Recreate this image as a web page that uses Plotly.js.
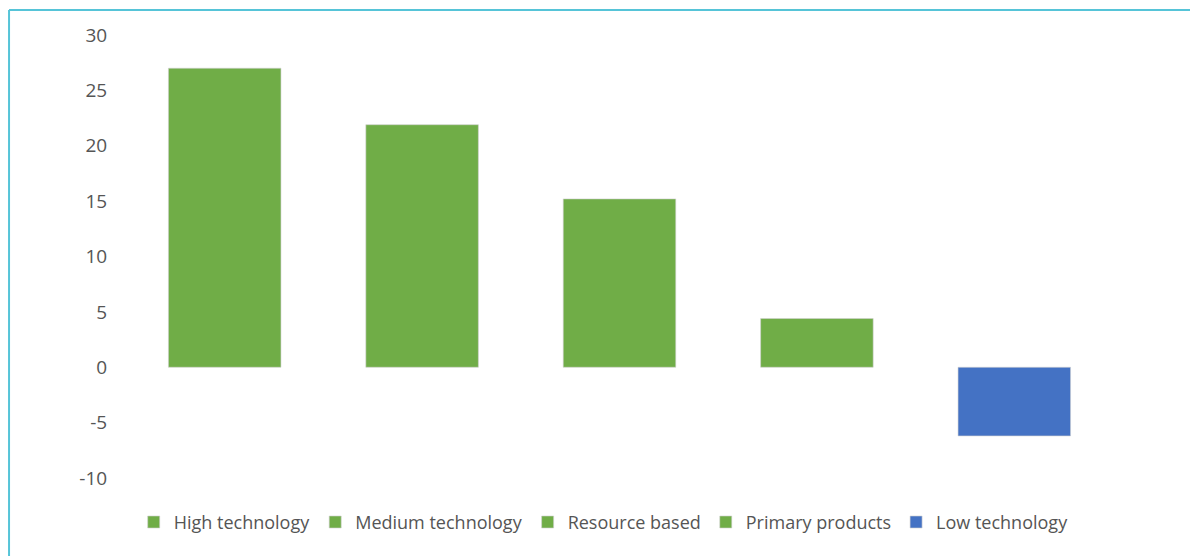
<!DOCTYPE html>
<html>
<head>
<meta charset="utf-8">
<script src="https://cdn.plot.ly/plotly-3.0.1.min.js"></script>
<style>
html,body{margin:0;padding:0;background:#fff;}
#chart{width:1190px;height:556px;}
</style>
</head>
<body>
<div id="chart"></div>
<script>
const categories = ["High technology", "Medium technology", "Resource based", "Primary products", "Low technology"];
const values = [27, 21.9, 15.2, 4.4, -6.2];
const colors = ["#70AD47", "#70AD47", "#70AD47", "#70AD47", "#4472C4"];
const yTicks = [-10, -5, 0, 5, 10, 15, 20, 25, 30];

const traces = categories.map((c, i) => ({
  type: "bar",
  name: c,
  x: [c],
  y: [values[i]],
  width: 0.57,
  marker: {color: colors[i], line: {color: "#d0d0d0", width: 0.6}},
  hoverinfo: "x+y"
}));

const layout = {
  width: 1190,
  height: 556,
  margin: {l: 126, r: 77, t: 35, b: 78},
  paper_bgcolor: "#ffffff",
  plot_bgcolor: "#ffffff",
  barmode: "overlay",
  font: {family: "Open Sans, Liberation Sans, sans-serif", color: "#555555", size: 18},
  xaxis: {
    type: "category",
    categoryorder: "array",
    categoryarray: categories,
    showticklabels: false,
    showgrid: false,
    zeroline: false,
    showline: false,
    ticks: ""
  },
  yaxis: {
    range: [-10, 30],
    tickvals: yTicks,
    ticktext: yTicks.map(String),
    showgrid: false,
    zeroline: false,
    showline: false,
    ticks: "outside",
    ticklen: 14,
    tickcolor: "rgba(0,0,0,0)",
    tickfont: {size: 19, color: "#555555"}
  },
  showlegend: true,
  legend: {
    orientation: "h",
    x: 0.484,
    xanchor: "center",
    y: -0.1,
    yanchor: "middle",
    font: {size: 18, color: "#555555"},
    itemclick: false,
    traceorder: "normal"
  },
  shapes: [
    {type: "line", xref: "paper", yref: "paper", x0: -0.1185, x1: 1.1, y0: 1.0564, y1: 1.0564, line: {color: "#56C4D8", width: 2}},
    {type: "line", xref: "paper", yref: "paper", x0: -0.1185, x1: -0.1185, y0: 1.0564, y1: -0.25, line: {color: "#56C4D8", width: 2}}
  ]
};

Plotly.newPlot("chart", traces, layout, {displayModeBar: false, staticPlot: true});
</script>
</body>
</html>
